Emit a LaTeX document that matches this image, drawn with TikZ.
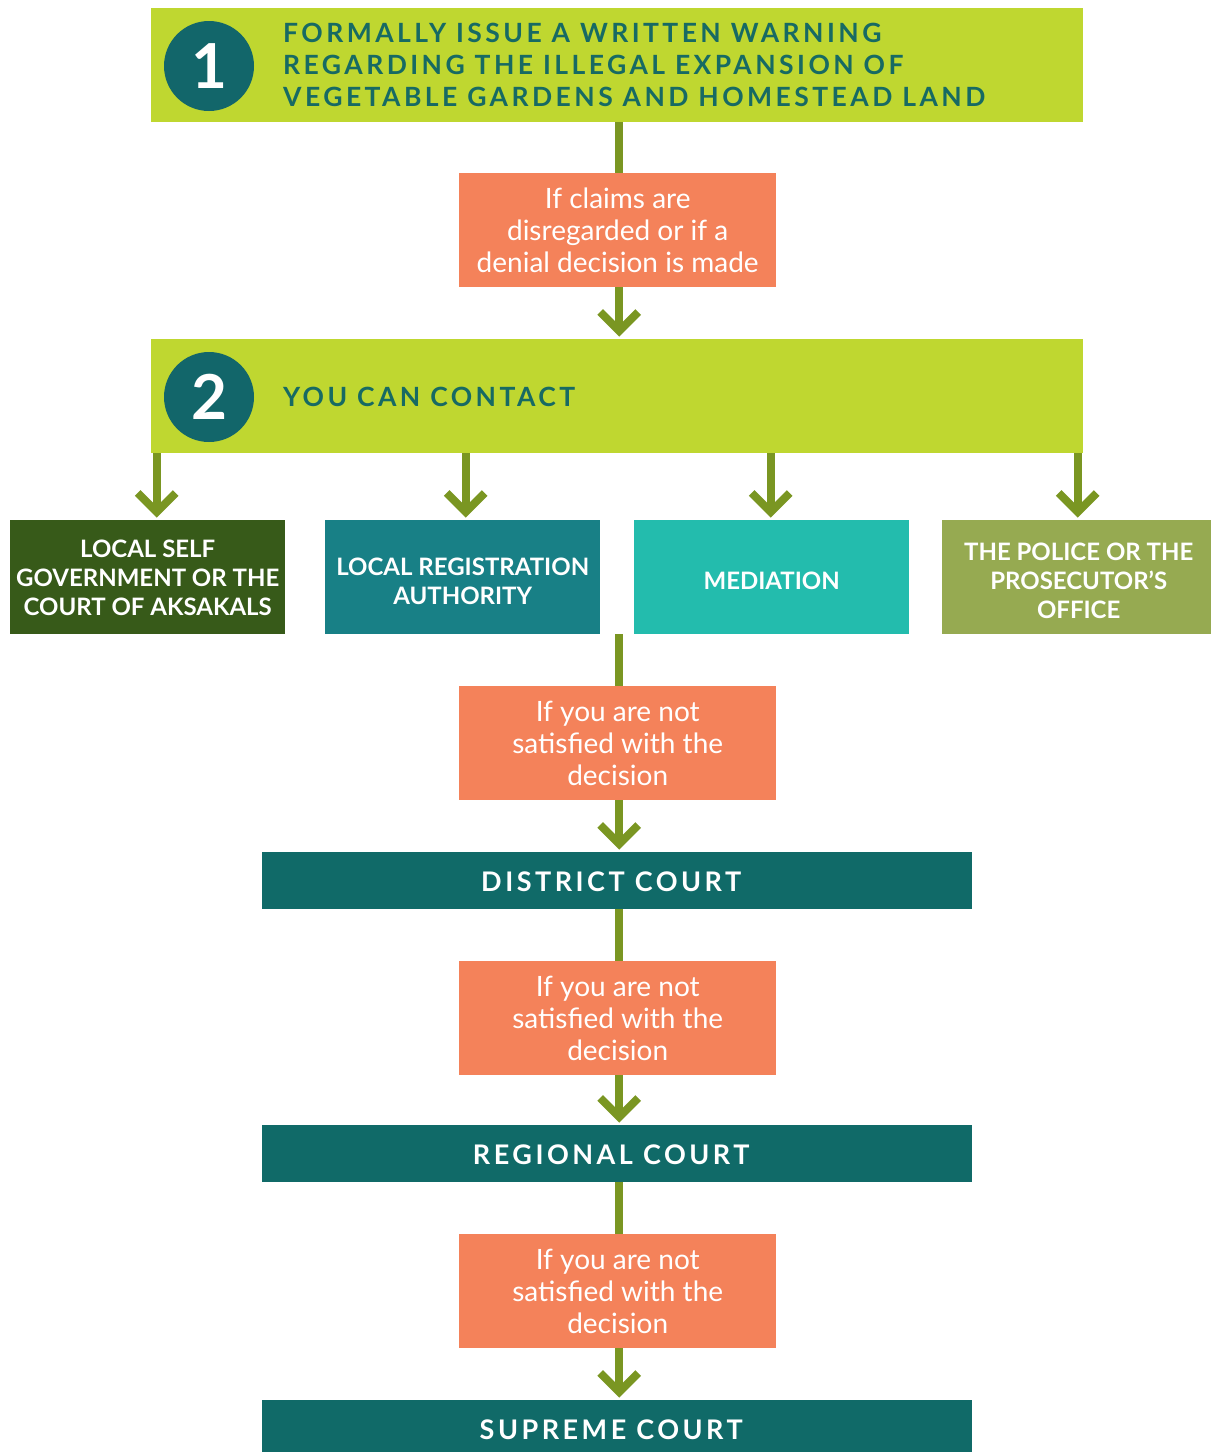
\documentclass[tikz,border=0pt]{standalone}
\usepackage{fontspec}
\setmainfont{Lato}
\IfFontExistsTF{Lato Black}{\newfontfamily\hfont[LetterSpace=13]{Lato Black}}{\newfontfamily\hfont[LetterSpace=13]{Lato}}
\usetikzlibrary{calc}
\definecolor{lime}{HTML}{BFD730}
\definecolor{circ}{HTML}{12666A}
\definecolor{htext}{HTML}{176A63}
\definecolor{orng}{HTML}{F4825A}
\definecolor{arrowc}{HTML}{7A9622}
\definecolor{boxA}{HTML}{375A19}
\definecolor{boxB}{HTML}{188086}
\definecolor{boxC}{HTML}{23BCAD}
\definecolor{boxD}{HTML}{96AA51}
\definecolor{court}{HTML}{106A68}
\tikzset{
  rbox/.style={rectangle, inner sep=0pt, anchor=north west, align=center, text=white},
  hdr/.style={rbox, fill=lime, minimum width=932pt, minimum height=114pt},
  numc/.style={circle, fill=circ, minimum size=90pt, inner sep=0pt, text=white, font=\hfont\fontsize{62}{62}\selectfont\bfseries},
  htxt/.style={anchor=west, align=left, text=htext, inner sep=0pt, font=\hfont\fontsize{26.5}{32}\selectfont\bfseries},
  cond/.style={rbox, fill=orng, minimum width=317pt, minimum height=114pt, font=\fontsize{28}{32}\selectfont},
  opt/.style={rbox, minimum height=114pt},
  otxt/.style={inner sep=0pt, align=center, text=white, font=\fontsize{24}{29}\selectfont\bfseries},
  crt/.style={rbox, fill=court, minimum width=710pt, minimum height=57pt},
  ctxt/.style={inner sep=0pt, text=white, font=\hfont\fontsize{27}{30}\selectfont\bfseries},
  conn/.style={draw=arrowc, line width=8pt},
  chev/.style={draw=arrowc, line width=8pt, line join=miter}
}
\newcommand\chevat[1]{\draw[chev] ($(#1)+(-19,-27)$) -- ($(#1)+(0,-8)$) -- ($(#1)+(19,-27)$);}
\begin{document}
\begin{tikzpicture}[x=1pt,y=-1pt]
\useasboundingbox (0,0) rectangle (1212,1452);
% header 1
\node[hdr] (h1) at (151,8) {};
\node[numc] (c1) at (209,66) {1};
\node[htxt] (t1) at (283,65) {FORMALLY ISSUE A WRITTEN WARNING\\REGARDING THE ILLEGAL EXPANSION OF\\VEGETABLE GARDENS AND HOMESTEAD LAND};
% condition 1
\node[cond] (o1) at (459,173) {If claims are\\disregarded or if a\\denial decision is made};
% header 2
\node[hdr] (h2) at (151,339) {};
\node[numc] (c2) at (209,397) {2};
\node[htxt] (t2) at (283,397) {YOU CAN CONTACT};
% options
\node[opt, fill=boxA, minimum width=275pt] (bA) at (10,520) {};
\node[opt, fill=boxB, minimum width=275pt] (bB) at (325,520) {};
\node[opt, fill=boxC, minimum width=275pt] (bC) at (634,520) {};
\node[opt, fill=boxD, minimum width=269pt] (bD) at (942,520) {};
\node[otxt] (lA) at ([yshift=-1pt]bA.center) {LOCAL SELF\\GOVERNMENT OR THE\\COURT OF AKSAKALS};
\node[otxt] (lB) at ([yshift=-4pt]bB.center) {LOCAL REGISTRATION\\AUTHORITY};
\node[otxt] (lC) at ([yshift=-4pt]bC.center) {MEDIATION};
\node[otxt] (lD) at ([yshift=-4pt,xshift=2pt]bD.center) {THE POLICE OR THE\\PROSECUTOR’S\\OFFICE};
% lower chain
\node[cond] (o2) at (459,686) {If you are not\\satisfied with the\\decision};
\node[crt] (k1) at (262,852) {};
\node[ctxt] (m1) at ([xshift=-6pt,yshift=-1pt]k1.center) {DISTRICT COURT};
\node[cond] (o3) at (459,961) {If you are not\\satisfied with the\\decision};
\node[crt] (k2) at (262,1125) {};
\node[ctxt] (m2) at ([xshift=-6pt,yshift=-1pt]k2.center) {REGIONAL COURT};
\node[cond] (o4) at (459,1234) {If you are not\\satisfied with the\\decision};
\node[crt] (k3) at (262,1400) {};
\node[ctxt] (m3) at ([xshift=-6pt,yshift=-1pt]k3.center) {SUPREME COURT};
% connectors
\coordinate (x1) at ([xshift=1.5pt]o1.north);
\draw[conn] (h1.south -| x1) -- (x1);
\coordinate (x2) at (h2.north -| x1);
\draw[conn] (o1.south -| x1) -- ($(x2)+(0,-14)$); \chevat{x2}
\coordinate (aA) at ([xshift=9pt]bA.north);
\coordinate (aB) at ([xshift=3pt]bB.north);
\coordinate (aC) at ([xshift=-1pt]bC.north);
\coordinate (aD) at ([xshift=1pt]bD.north);
\foreach \c in {aA,aB,aC,aD}{
  \draw[conn] (h2.south -| \c) -- ($(\c)+(0,-14)$); \chevat{\c}
}
\coordinate (y2) at ([xshift=1.5pt]o2.north);
\draw[conn] (bB.south -| y2) -- (y2);
\coordinate (z1) at (k1.north -| y2);
\draw[conn] (o2.south -| y2) -- ($(z1)+(0,-14)$); \chevat{z1}
\draw[conn] (k1.south -| y2) -- (o3.north -| y2);
\coordinate (z2) at (k2.north -| y2);
\draw[conn] (o3.south -| y2) -- ($(z2)+(0,-14)$); \chevat{z2}
\draw[conn] (k2.south -| y2) -- (o4.north -| y2);
\coordinate (z3) at (k3.north -| y2);
\draw[conn] (o4.south -| y2) -- ($(z3)+(0,-14)$); \chevat{z3}
\end{tikzpicture}
\end{document}
